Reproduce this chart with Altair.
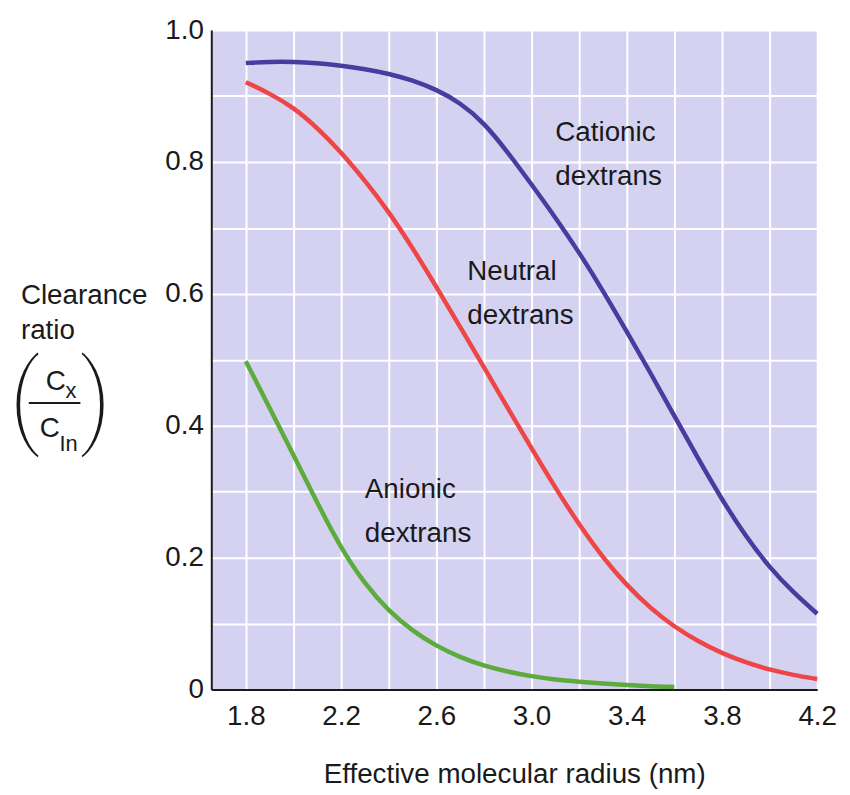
import altair as alt
import pandas as pd

# ---- data ----
radius = [1.8, 1.9, 2.0, 2.1, 2.2, 2.3, 2.4, 2.5, 2.6, 2.7, 2.8, 2.9, 3.0,
          3.1, 3.2, 3.3, 3.4, 3.5, 3.6, 3.7, 3.8, 3.9, 4.0, 4.1, 4.2]
cationic = [0.950, 0.952, 0.952, 0.950, 0.946, 0.941, 0.934, 0.924, 0.910,
            0.890, 0.860, 0.815, 0.766, 0.716, 0.663, 0.605, 0.543, 0.480,
            0.415, 0.350, 0.288, 0.232, 0.185, 0.147, 0.115]
neutral = [0.921, 0.904, 0.883, 0.852, 0.815, 0.772, 0.725, 0.670, 0.611,
           0.550, 0.489, 0.427, 0.366, 0.306, 0.250, 0.200, 0.158, 0.123,
           0.095, 0.073, 0.055, 0.041, 0.030, 0.022, 0.016]
anionic_radius = [1.8, 1.9, 2.0, 2.1, 2.2, 2.3, 2.4, 2.5, 2.6, 2.7, 2.8,
                  2.9, 3.0, 3.1, 3.2, 3.3, 3.4, 3.5, 3.6]
anionic = [0.498, 0.427, 0.356, 0.283, 0.214, 0.160, 0.119, 0.089, 0.066,
           0.049, 0.036, 0.027, 0.020, 0.015, 0.012, 0.009, 0.007, 0.005,
           0.004]

series_names = ["Cationic", "Neutral", "Anionic"]
series_colors = ["#4a3b9f", "#ee4646", "#5cab3c"]

x_grid_values = [1.8, 2.0, 2.2, 2.4, 2.6, 2.8, 3.0, 3.2, 3.4, 3.6, 3.8, 4.0, 4.2]
x_label_values = ["1.8", "2.2", "2.6", "3.0", "3.4", "3.8", "4.2"]
y_grid_values = [0.0, 0.1, 0.2, 0.3, 0.4, 0.5, 0.6, 0.7, 0.8, 0.9, 1.0]

label_line1 = ["Cationic", "Neutral", "Anionic"]
label_line2 = ["dextrans", "dextrans", "dextrans"]
label_x = [3.10, 2.73, 2.30]
label_y1 = [0.832, 0.621, 0.291]
label_y2 = [0.765, 0.555, 0.224]

# ---- tables ----
rows = []
for r, v in zip(radius, cationic):
    rows.append({"radius": r, "ratio": v, "series": "Cationic"})
for r, v in zip(radius, neutral):
    rows.append({"radius": r, "ratio": v, "series": "Neutral"})
for r, v in zip(anionic_radius, anionic):
    rows.append({"radius": r, "ratio": v, "series": "Anionic"})
df = pd.DataFrame(rows)

labels = pd.DataFrame({
    "x": label_x + label_x,
    "y": label_y1 + label_y2,
    "text": label_line1 + label_line2,
})

FONT = "Liberation Sans, Arial, sans-serif"
FS = 28

xscale = alt.Scale(domain=[1.655, 4.2], nice=False, zero=False)
yscale = alt.Scale(domain=[0, 1], nice=False)

x_label_expr = ("indexof(" + str(x_label_values) + ", format(datum.value, '.1f')) >= 0"
                " ? format(datum.value, '.1f') : ''")
y_label_expr = ("round(datum.value * 10) % 2 == 0 ? "
                "(datum.value == 0 ? '0' : format(datum.value, '.1f')) : ''")

lines = alt.Chart(df).mark_line(strokeWidth=4.5, interpolate="basis", strokeCap="butt").encode(
    x=alt.X("radius:Q", scale=xscale,
            axis=alt.Axis(values=x_grid_values, labelExpr=x_label_expr,
                          title="Effective molecular radius (nm)")),
    y=alt.Y("ratio:Q", scale=yscale,
            axis=alt.Axis(values=y_grid_values, labelExpr=y_label_expr, title="")),
    color=alt.Color("series:N", scale=alt.Scale(domain=series_names, range=series_colors),
                    legend=None),
    detail="series:N",
)

texts = alt.Chart(labels).mark_text(
    align="left", baseline="alphabetic", font=FONT, fontSize=FS, color="#1a1a1a"
).encode(x=alt.X("x:Q", scale=xscale), y=alt.Y("y:Q", scale=yscale), text="text:N")

one = pd.DataFrame({"k": [0]})


def ptext(txt, px, py, size=FS, align="left", font=FONT, **kw):
    return alt.Chart(one).mark_text(
        text=txt, align=align, baseline="alphabetic", font=font, fontSize=size,
        color="#1a1a1a", **kw
    ).encode(x=alt.value(px), y=alt.value(py))


ytitle = [
    ptext("Clearance", -192, 276),
    ptext("ratio", -192, 311),
    ptext("C", -167, 363),
    ptext("x", -147, 371, size=22),
    ptext("C", -173, 410),
    ptext("In", -153, 424, size=22),
    ptext("(", -205, 408, size=106, font="Roboto", fontWeight=300,
          stroke="#ffffff", strokeWidth=2.5),
    ptext(")", -134, 408, size=106, font="Roboto", fontWeight=300,
          stroke="#ffffff", strokeWidth=2.5),
]
frac = alt.Chart(one).mark_rule(color="#1a1a1a", strokeWidth=2).encode(
    x=alt.value(-184), x2=alt.value(-132), y=alt.value(376)
)

chart = alt.layer(lines, texts, frac, *ytitle).properties(
    width=611, height=665, autosize="none",
    padding={"left": 205, "top": 19, "right": 25, "bottom": 100},
).configure_view(
    fill="#d4d2f0", stroke=None
).configure_axis(
    grid=True, gridColor="#ffffff", gridWidth=2, gridOpacity=1,
    domainColor="#1a1a1a", domainWidth=2, ticks=False,
    labelFont=FONT, labelFontSize=FS, labelColor="#1a1a1a",
    labelFlush=False, labelOverlap=False,
    titleFont=FONT, titleFontSize=FS, titleFontWeight="normal", titleColor="#1a1a1a",
).configure_axisX(
    labelPadding=13, titlePadding=31
).configure_axisY(
    labelPadding=8
)

chart.save("out.html", embed_options={"renderer": "svg", "actions": False})
